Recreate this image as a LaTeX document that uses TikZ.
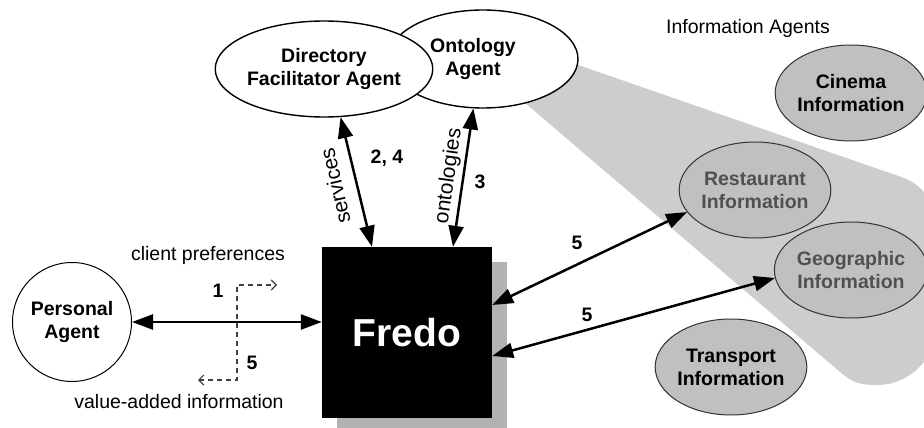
\documentclass[tikz,border=0pt]{standalone}
\usepackage{fontspec}
\setmainfont{Liberation Sans}
\usetikzlibrary{shapes.geometric,arrows.meta,calc}
\definecolor{bandgray}{RGB}{205,205,205}
\definecolor{infofill}{RGB}{192,192,192}
\definecolor{shadowgray}{RGB}{178,178,178}
\definecolor{dimtext}{RGB}{80,80,80}
\begin{document}
\begin{tikzpicture}[x=1pt,y=-1pt,
  every node/.style={font=\fontsize{19.5}{23}\selectfont, align=center, inner sep=0pt},
  lbl/.style={font=\fontsize{19.5}{23}\selectfont\bfseries},
  rlbl/.style={font=\fontsize{21}{24}\selectfont},
  agent/.style={ellipse, draw=black, line width=1.4pt, fill=white, inner sep=0pt,
    font=\fontsize{19.5}{23}\selectfont\bfseries},
  info/.style={ellipse, draw=black!80, line width=1pt, fill=infofill,
    minimum width=145pt, minimum height=96pt, font=\fontsize{19.5}{23}\selectfont\bfseries},
  link/.style={line width=2.5pt, {Triangle[length=21pt,width=15pt]}-{Triangle[length=21pt,width=15pt]}},
  flow/.style={draw=black!75, line width=1.2pt, dash pattern=on 5pt off 4pt,
    {Straight Barb[length=5pt,width=10pt]}-{Straight Barb[length=5pt,width=10pt]}},
]
\useasboundingbox (0,0) rectangle (924,428);
\clip (0,0) rectangle (924,428);

% shaded band of information agents
\fill[bandgray] (483,32) -- (902.4,177.4) .. controls (922.5,184.4) and (936,203.3) .. (936,224.6)
  -- (936,326) .. controls (936,358.6) and (909.6,385) .. (877,385)
  .. controls (859.6,385) and (852.4,382.6) .. (839.2,371.3) -- (483,67) -- cycle;

% Fredo with shadow
\fill[shadowgray] (337,262) rectangle (507,433);
\node[fill=black, minimum width=170pt, minimum height=171pt, text=white,
  font=\fontsize{39}{45}\selectfont\bfseries] (fredo) at (407,332.5) {Fredo};

% upper agents
\node[agent, minimum width=190pt, minimum height=98pt] (onto) at (483,59) {};
\node[lbl] (ontotext) at (473,59) {Ontology\\Agent};
\node[agent, minimum width=202pt, minimum height=96pt] (df) at (324,69) {Directory\\Facilitator Agent};

% personal agent
\node[circle, draw=black, line width=1pt, fill=white, minimum size=119pt,
  font=\fontsize{19.5}{23}\selectfont\bfseries] (pa) at (72,322) {Personal\\Agent};

% information agents
\node (infotitle) at (748,28) {Information Agents};
\node[info] (cinema) at (851,93) {Cinema\\Information};
\node[info, text=dimtext] (rest) at (755,190) {Restaurant\\Information};
\node[info, text=dimtext] (geo) at (851,270) {Geographic\\Information};
\node[info] (trans) at (731,367) {Transport\\Information};

% connectors
\draw[link] (df.-71.6) -- ($(fredo.north)+(-35,0)$);
\draw[link] (onto.-101.5) -- ($(fredo.north)+(46,0)$);
\draw[link] (rest.198.7) -- ($(fredo.east)+(0,-27.5)$);
\draw[link] (geo.186) -- ($(fredo.east)+(0,23.5)$);
\draw[link] (pa.east) -- (pa.east -| fredo.west);

% client preference / value-added flow
\coordinate (d1) at (277,285);
\coordinate (dm1) at (237,285);
\coordinate (dm2) at (237,380);
\coordinate (d2) at (198,380);
\draw[flow] (d2) -- (dm2) -- (dm1) -- (d1);

% labels
\node (cp) at (208,255) {client preferences};
\node (va) at (179,402) {value-added information};
\node[lbl] (n1) at (218,291) {1};
\node[lbl] (n5a) at (252,363) {5};
\node[rlbl, rotate=103] (serv) at (335,186) {services};
\node[rlbl, rotate=82] (ontl) at (449,176) {ontologies};
\node[lbl] (n24) at (387,158) {2, 4};
\node[lbl] (n3) at (480,182) {3};
\node[lbl] (n5b) at (577,243) {5};
\node[lbl] (n5c) at (587,315) {5};
\end{tikzpicture}
\end{document}
